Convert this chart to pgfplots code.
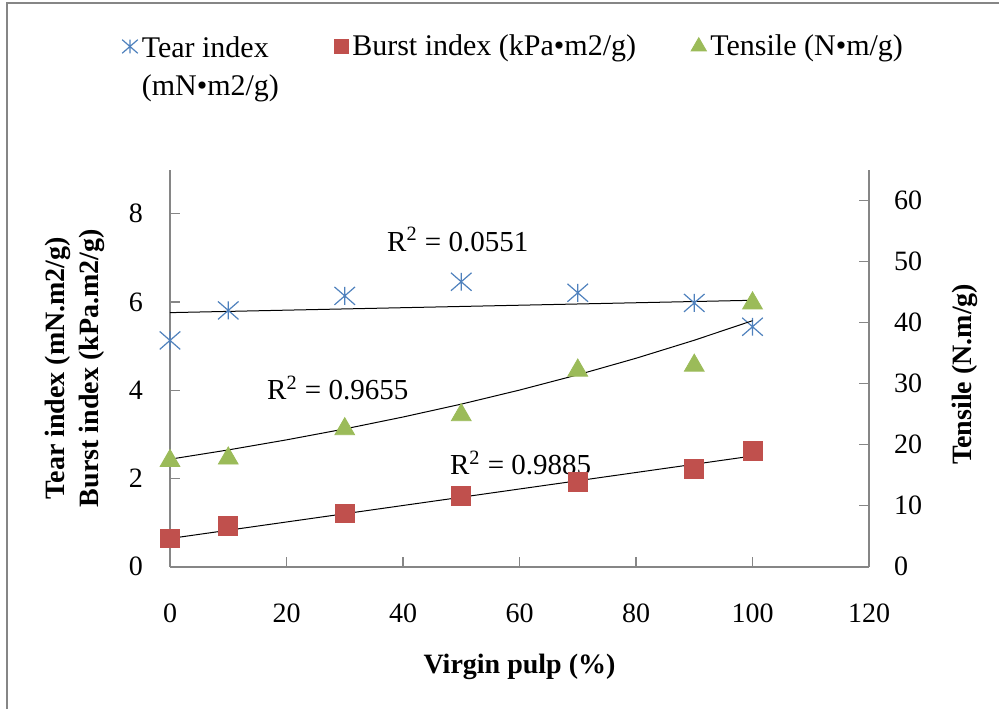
\documentclass[border=0pt]{standalone}
\usepackage{fontspec}
\setmainfont{Liberation Serif}
\usepackage{pgfplots}
\pgfplotsset{compat=1.18}
\definecolor{tearblue}{HTML}{4F81BD}
\definecolor{burstred}{HTML}{C0504D}
\definecolor{tensgreen}{HTML}{9BBB59}
\definecolor{axgray}{HTML}{868686}
\pgfdeclareplotmark{xstar}{%
  \pgfpathmoveto{\pgfqpoint{0pt}{0.68\pgfplotmarksize}}%
  \pgfpathlineto{\pgfqpoint{0pt}{-0.68\pgfplotmarksize}}%
  \pgfpathmoveto{\pgfqpoint{0.78\pgfplotmarksize}{0.68\pgfplotmarksize}}%
  \pgfpathlineto{\pgfqpoint{-0.78\pgfplotmarksize}{-0.68\pgfplotmarksize}}%
  \pgfpathmoveto{\pgfqpoint{-0.78\pgfplotmarksize}{0.68\pgfplotmarksize}}%
  \pgfpathlineto{\pgfqpoint{0.78\pgfplotmarksize}{-0.68\pgfplotmarksize}}%
  \pgfusepathqstroke}
\pgfplotsset{
  myaxis/.style={
    scale only axis, width=349.5pt, height=198.5pt,
    xmin=0, xmax=120, clip=false,
    tick align=inside, major tick length=5pt,
    every tick/.style={axgray, line width=0.6pt},
    axis line style={axgray, line width=0.8pt},
    tick label style={font=\fontsize{14}{17}\selectfont},
    label style={font=\bfseries\fontsize{14}{17}\selectfont},
    /pgf/number format/assume math mode=true,
  }
}
\begin{document}
\begin{tikzpicture}
\path[use as bounding box] (-85pt,-71.15pt) rectangle (414.5pt,283.35pt);
\draw[axgray, line width=1pt] (-81.25pt,-71.15pt) -- (-81.25pt,281.85pt) -- (414.5pt,281.85pt);
\begin{axis}[myaxis, ymin=0, ymax=9, ytick={0,2,4,6,8}, xtick={0,20,...,120},
  axis x line*=bottom, axis y line*=left,
  xticklabel style={yshift=-15pt}, yticklabel style={xshift=-10pt},
  xlabel={Virgin pulp (\%)},
  xlabel style={at={(axis description cs:0.5,-0.253)}, anchor=center},
  ylabel={Tear index (mN.m2/g)\\Burst index (kPa.m2/g)},
  ylabel style={align=center, at={(axis description cs:-0.136,0.5)}, anchor=center}]
\addplot[only marks, mark=xstar, mark size=6.6pt, tearblue, mark options={line width=0.6pt}]
  coordinates {(0,5.13)(10,5.81)(30,6.14)(50,6.46)(70,6.21)(90,5.98)(100,5.44)};
\addplot[only marks, mark=square*, mark size=4.7pt, burstred]
  coordinates {(0,0.64)(10,0.92)(30,1.21)(50,1.60)(70,1.93)(90,2.21)(100,2.63)};
\addplot[black, line width=0.5pt] coordinates {(0,5.76)(100,6.04)};
\addplot[black, line width=0.5pt] coordinates {(0,0.64)(100,2.51)};
\node[font=\fontsize{14.5}{17}\selectfont] at (axis cs:49.4,7.42) {R\textsuperscript{2} = 0.0551};
\node[font=\fontsize{14.5}{17}\selectfont] at (axis cs:28.8,4.05) {R\textsuperscript{2} = 0.9655};
\node[font=\fontsize{14.5}{17}\selectfont] at (axis cs:60.2,2.35) {R\textsuperscript{2} = 0.9885};
\end{axis}
\begin{axis}[myaxis, ymin=0, ymax=65, ytick={0,10,...,60},
  axis x line=none, axis y line*=right,
  yticklabel shift=9pt,
  ylabel={Tensile (N.m/g)},
  ylabel style={at={(axis description cs:1.137,0.485)}, anchor=center},
  legend image code/.code={\draw[#1] plot coordinates {(0pt,0pt)};},
  legend style={draw=none, fill=none, legend columns=3, inner sep=0pt,
    at={(-0.069,1.357)}, anchor=north west,
    font=\fontsize{15}{18}\selectfont,
    nodes={inner sep=2pt},
    /tikz/every even column/.append style={column sep=25.5pt}}]
\addlegendimage{only marks, mark=xstar, mark size=5pt, tearblue, mark options={line width=0.6pt}}
\addlegendimage{only marks, mark=square*, mark size=3.6pt, burstred}
\addlegendimage{only marks, mark=triangle*, mark size=4.4pt, tensgreen}
\addplot[only marks, mark=triangle*, mark size=5.7pt, tensgreen, mark options={yshift=-1.4pt}, forget plot]
  coordinates {(0,17.8)(10,18.2)(30,23.0)(50,25.3)(70,32.6)(90,33.4)(100,43.6)};
\addplot[black, line width=0.5pt, forget plot] coordinates {(0,17.60)(10,19.12)(20,20.77)(30,22.56)(40,24.51)(50,26.62)(60,28.92)(70,31.42)(80,34.13)(90,37.08)(100,40.28)};
\legend{{\begin{tabular}[t]{@{}l@{}}Tear index\\[1pt](mN•m2/g)\end{tabular}},{Burst index (kPa•m2/g)},{Tensile (N•m/g)}}
\end{axis}
\end{tikzpicture}
\end{document}
